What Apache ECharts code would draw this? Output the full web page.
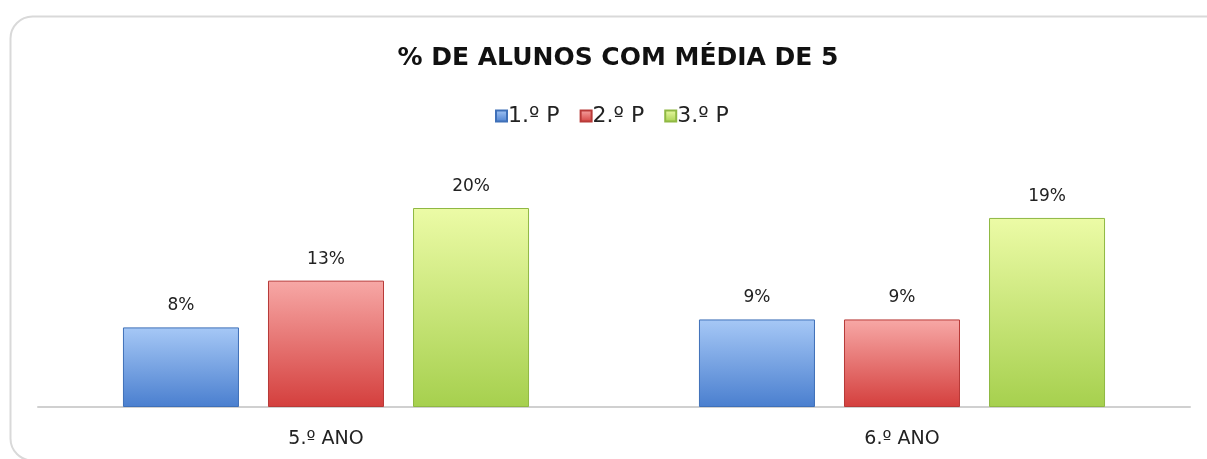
<!DOCTYPE html>
<html>
<head>
<meta charset="utf-8">
<script src="https://cdn.jsdelivr.net/npm/echarts@6/dist/echarts.min.js"></script>
<style>
  html, body { margin: 0; padding: 0; background: #fff; }
  #chart { width: 1207px; height: 459px; }
</style>
</head>
<body>
<div id="chart"></div>
<script>
var categories = ['5.º ANO', '6.º ANO'];
var seriesNames = ['1.º P', '2.º P', '3.º P'];
var p1 = [8, 8.8];
var p2 = [12.7, 8.8];
var p3 = [20, 19];

function grad(top, bottom) {
    return new echarts.graphic.LinearGradient(0, 0, 0, 1, [
        {offset: 0, color: top},
        {offset: 1, color: bottom}
    ]);
}

var colors = [
    {top: '#a6c8f6', bottom: '#4a7fcf', border: '#3f70b8', legend: '#4f81bd'},
    {top: '#f7a8a6', bottom: '#d43f3d', border: '#b83a38', legend: '#c0504d'},
    {top: '#ecfba6', bottom: '#a6d04e', border: '#8fb843', legend: '#9bbb59'}
];

var values = [p1, p2, p3];

var chart = echarts.init(document.getElementById('chart'));

var series = seriesNames.map(function (name, i) {
    return {
        name: name,
        type: 'bar',
        data: values[i],
        barGap: '25%',
        barCategoryGap: '29.5%',
        itemStyle: {
            color: grad(colors[i].top, colors[i].bottom),
            borderColor: colors[i].border,
            borderWidth: 1
        },
        label: {
            show: true,
            position: 'top',
            distance: 13,
            fontFamily: 'DejaVu Sans',
            fontSize: 17,
            color: '#222',
            formatter: function (p) { return Math.round(p.value) + '%'; }
        }
    };
});

var option = {
    animation: false,
    color: colors.map(function (c) { return c.legend; }),
    title: {
        text: '% DE ALUNOS COM MÉDIA DE 5',
        left: 613,
        textAlign: 'center',
        top: 41,
        textStyle: {
            fontFamily: 'DejaVu Sans',
            fontWeight: 'bold',
            fontSize: 25,
            color: '#111'
        }
    },
    legend: {
        data: seriesNames,
        top: 100,
        left: 490,
        itemWidth: 11,
        itemHeight: 11,
        itemGap: 20,
        icon: 'rect',
        textStyle: {
            fontFamily: 'DejaVu Sans',
            fontSize: 22,
            color: '#222',
            padding: [0, 0, 0, -4]
        }
    },
    grid: {
        left: 38,
        right: 17,
        top: 208,
        bottom: 52
    },
    xAxis: {
        type: 'category',
        data: categories,
        axisLine: {lineStyle: {color: '#d0d0d0', width: 2}},
        axisTick: {show: false},
        axisLabel: {
            fontFamily: 'DejaVu Sans',
            fontSize: 19,
            color: '#222',
            margin: 23
        }
    },
    yAxis: {
        type: 'value',
        min: 0,
        max: 20,
        show: false,
        splitLine: {show: false}
    },
    graphic: [{
        type: 'rect',
        left: 8,
        top: 14,
        shape: {width: 1230, height: 444, r: 22},
        style: {fill: 'none', stroke: '#d9d9d9', lineWidth: 2},
        silent: true,
        z: -10
    }],
    series: series
};

chart.setOption(option);
window.addEventListener('resize', function () {
    chart.resize();
});
</script>
</body>
</html>
